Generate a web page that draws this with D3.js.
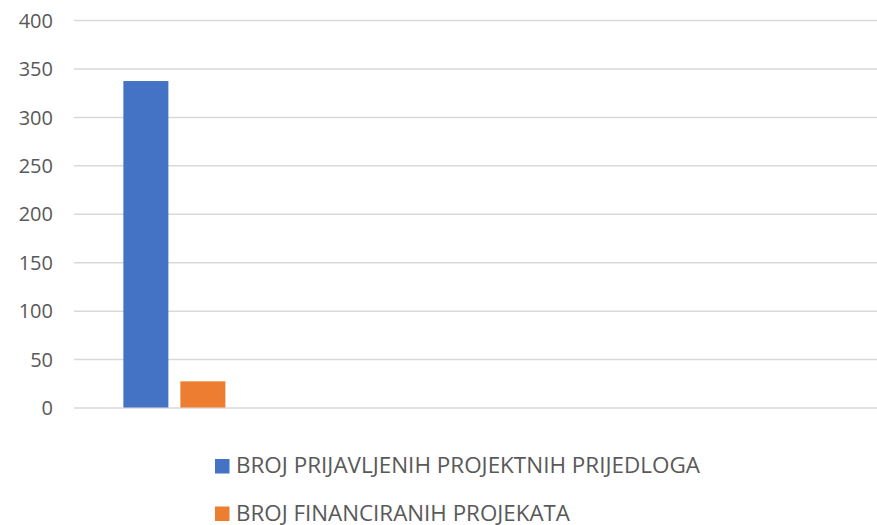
<!DOCTYPE html>
<html>
<head>
<meta charset="utf-8">
<script src="https://cdn.jsdelivr.net/npm/d3@7"></script>
<style>
html,body{margin:0;padding:0;background:#fff;}
svg{display:block;}
</style>
</head>
<body>
<svg id="chart" width="877" height="525"></svg>
<script>
const categories = ["1", "2", "3", "4"];
const seriesNames = ["BROJ PRIJAVLJENIH PROJEKTNIH PRIJEDLOGA", "BROJ FINANCIRANIH PROJEKATA"];
const prijavljeni = [337, null, null, null];
const financirani = [27, null, null, null];
const yTicks = [0, 50, 100, 150, 200, 250, 300, 350, 400];
const colors = ["#4472C4", "#ED7D31"];

const svg = d3.select("#chart");
const margin = {left: 74, right: 0, top: 20, bottom: 118};
const W = 877, H = 525;
const y0 = 407.5, yTop = 20;

const x = d3.scaleBand().domain(categories).range([margin.left, W]).paddingInner(0).paddingOuter(0);
const y = d3.scaleLinear().domain([0, 400]).range([y0, yTop]);

// gridlines
const grid = svg.append("g")
  .attr("transform", `translate(${margin.left},0)`)
  .call(d3.axisLeft(y).tickValues(yTicks).tickSize(-(W - margin.left)).tickFormat(""));
grid.select(".domain").remove();
grid.selectAll("line").attr("stroke", "#d9d9d9").attr("stroke-width", 1.5);

// y labels
const yAxis = svg.append("g")
  .attr("transform", `translate(53,0)`)
  .call(d3.axisLeft(y).tickValues(yTicks).tickSize(0).tickPadding(0));
yAxis.select(".domain").remove();
yAxis.selectAll("text")
  .attr("fill", "#595959")
  .attr("dy", "0.36em")
  .style("font-family", "'Open Sans', sans-serif")
  .style("font-size", "20px");

// bars
const bw = x.bandwidth();
const barW = bw * 45 / 200.75;
const innerGap = bw * 12 / 200.75;
const groupW = barW * 2 + innerGap;
const seriesData = [prijavljeni, financirani];
seriesData.forEach((vals, si) => {
  svg.append("g").selectAll("rect")
    .data(categories.map((c, i) => ({c, v: vals[i]})).filter(d => d.v != null))
    .enter().append("rect")
    .attr("x", d => x(d.c) + (bw - groupW) / 2 + si * (barW + innerGap))
    .attr("y", d => y(d.v))
    .attr("width", barW)
    .attr("height", d => y(0) - y(d.v))
    .attr("fill", colors[si]);
});

// legend
const legendWidths = [464, 334];
const legend = svg.append("g");
seriesNames.forEach((name, i) => {
  const gy = 473 + i * 47.5;
  legend.append("rect")
    .attr("x", 215).attr("y", gy - 14)
    .attr("width", 14.5).attr("height", 14.5)
    .attr("fill", colors[i]);
  legend.append("text")
    .attr("x", 236).attr("y", gy)
    .attr("fill", "#595959")
    .attr("textLength", legendWidths[i])
    .attr("lengthAdjust", "spacingAndGlyphs")
    .style("font-family", "'Open Sans', sans-serif")
    .style("font-size", "21px")
    .text(name);
});
</script>
</body>
</html>
